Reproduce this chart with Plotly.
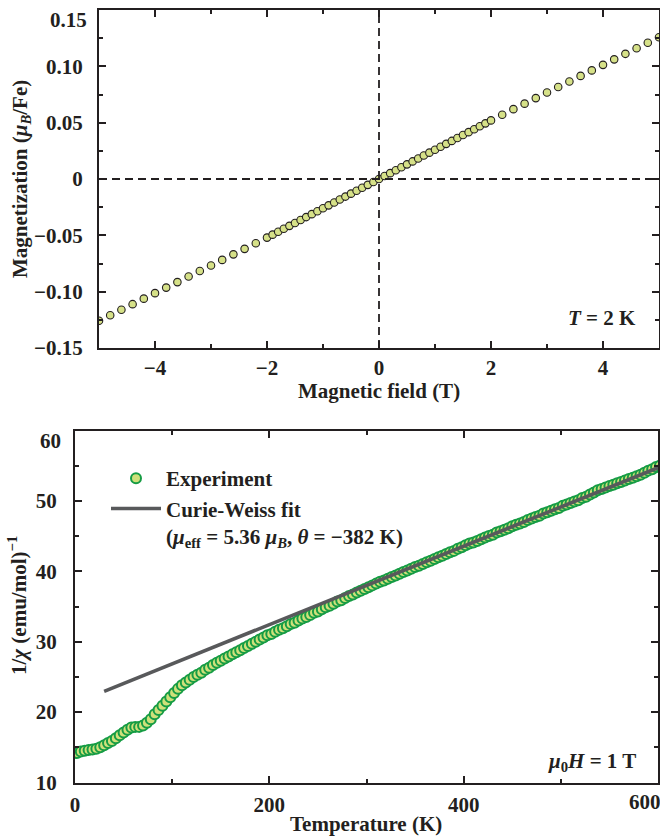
import plotly.graph_objects as go

# ---- M(H) isotherm at T = 2 K ----
field_T = [-5.0, -4.8, -4.6, -4.4, -4.2, -4.0, -3.8, -3.6, -3.4, -3.2, -3.0, -2.8, -2.6, -2.4, -2.2,
           -2.0, -1.9, -1.8, -1.7, -1.6, -1.5, -1.4, -1.3, -1.2, -1.1, -1.0, -0.9, -0.8, -0.7, -0.6,
           -0.5, -0.4, -0.3, -0.2, -0.1, 0.0, 0.1, 0.2, 0.3, 0.4, 0.5, 0.6, 0.7, 0.8, 0.9, 1.0,
           1.1, 1.2, 1.3, 1.4, 1.5, 1.6, 1.7, 1.8, 1.9, 2.0,
           2.2, 2.4, 2.6, 2.8, 3.0, 3.2, 3.4, 3.6, 3.8, 4.0, 4.2, 4.4, 4.6, 4.8, 5.0]
magnetization = [-0.1258, -0.1209, -0.1160, -0.1111, -0.1062, -0.1013, -0.0964, -0.0915, -0.0866, -0.0817,
                 -0.0768, -0.0718, -0.0669, -0.0620, -0.0570,
                 -0.0520, -0.0494, -0.0468, -0.0442, -0.0416, -0.0390, -0.0364, -0.0338, -0.0312, -0.0286,
                 -0.0260, -0.0234, -0.0208, -0.0182, -0.0156, -0.0130, -0.0104, -0.0078, -0.0052, -0.0026,
                 0.0000, 0.0026, 0.0052, 0.0078, 0.0104, 0.0130, 0.0156, 0.0182, 0.0208, 0.0234, 0.0260,
                 0.0286, 0.0312, 0.0338, 0.0364, 0.0390, 0.0416, 0.0442, 0.0468, 0.0494, 0.0520,
                 0.0570, 0.0620, 0.0669, 0.0718, 0.0768, 0.0817, 0.0866, 0.0915, 0.0964, 0.1013,
                 0.1062, 0.1111, 0.1160, 0.1209, 0.1258]

field_tickvals = [-4, -2, 0, 2, 4]
field_ticktext = ["\u22124", "\u22122", "0", "2", "4"]
field_minor = [-5, -3, -1, 1, 3, 5]
mag_tickvals = [-0.15, -0.10, -0.05, 0, 0.05, 0.10, 0.15]
mag_ticktext = ["\u22120.15", "\u22120.10", "\u22120.05", "0", "0.05", "0.10", ""]
mag_minor = [-0.125, -0.075, -0.025, 0.025, 0.075, 0.125]

# ---- inverse susceptibility at mu0H = 1 T ----
temperature_K = [2, 6, 10, 14, 18, 22, 26, 30, 34, 38, 42, 46, 50, 54, 58, 62, 66, 70, 74, 78,
                 82, 86, 90, 94, 98, 102, 106, 110, 114, 118, 122, 126, 130, 134, 138, 142, 146, 150, 154, 158,
                 162, 166, 170, 174, 178, 182, 186, 190, 194, 198, 202, 206, 210, 214, 218, 222, 226, 230, 234, 238,
                 242, 246, 250, 254, 258, 262, 266, 270, 274, 278, 282, 286, 290, 294, 298, 302, 306, 310, 314, 318,
                 322, 326, 330, 334, 338, 342, 346, 350, 354, 358, 362, 366, 370, 374, 378, 382, 386, 390, 394, 398,
                 402, 406, 410, 414, 418, 422, 426, 430, 434, 438, 442, 446, 450, 454, 458, 462, 466, 470, 474, 478,
                 482, 486, 490, 494, 498, 502, 506, 510, 514, 518, 522, 526, 530, 534, 538, 542, 546, 550, 554, 558,
                 562, 566, 570, 574, 578, 582, 586, 590, 594, 598, 602, 606, 610]
inv_chi = [14.2, 14.4, 14.5, 14.6, 14.7, 14.8, 15.0, 15.3, 15.6, 15.9, 16.3, 16.7, 17.1, 17.5, 17.8, 17.9, 17.9, 18.1, 18.5, 19.0,
           19.7, 20.3, 20.9, 21.5, 22.1, 22.7, 23.3, 23.8, 24.2, 24.6, 25.0, 25.3, 25.6, 26.0, 26.3, 26.7, 27.0, 27.3, 27.6, 27.9,
           28.2, 28.5, 28.8, 29.1, 29.4, 29.7, 30.0, 30.3, 30.6, 30.9, 31.1, 31.4, 31.7, 31.9, 32.2, 32.5, 32.7, 33.0, 33.3, 33.5,
           33.8, 34.1, 34.3, 34.6, 34.9, 35.1, 35.4, 35.7, 35.9, 36.2, 36.5, 36.7, 37.0, 37.25, 37.5, 37.75, 38.0, 38.25, 38.5, 38.7,
           38.95, 39.2, 39.4, 39.65, 39.9, 40.1, 40.35, 40.6, 40.8, 41.05, 41.3, 41.5, 41.75, 42.0, 42.2, 42.45, 42.7, 42.9, 43.2, 43.4,
           43.7, 43.95, 44.1, 44.3, 44.55, 44.8, 45.0, 45.2, 45.5, 45.7, 45.9, 46.1, 46.4, 46.6, 46.8, 47.0, 47.3, 47.5, 47.7, 47.9,
           48.2, 48.4, 48.6, 48.8, 49.0, 49.3, 49.5, 49.7, 49.9, 50.1, 50.4, 50.6, 50.9, 51.2, 51.5, 51.7, 51.9, 52.1, 52.3, 52.5,
           52.7, 52.9, 53.1, 53.3, 53.5, 53.7, 54.0, 54.3, 54.5, 54.8, 55.0, 55.1, 55.2]

# Curie-Weiss parameters: 1/chi = (T - theta) / C
theta_K = -382
curie_const = 17.95
fit_temperature = [30, 610]
fit_inv_chi = [(t - theta_K) / curie_const for t in fit_temperature]

temp_tickvals = [0, 200, 400, 600]
temp_ticktext = ["0", "200", "400", ""]
temp_minor = [100, 300, 500]
chi_tickvals = [10, 20, 30, 40, 50, 60]
chi_ticktext = ["10", "20", "30", "40", "50", ""]
chi_minor = [15, 25, 35, 45, 55]

INK = "#231f20"
SERIF = "Liberation Serif"
FS = 21
W, H = 660, 838

fig = go.Figure()

fig.add_trace(go.Scatter(
    x=field_T, y=magnetization, mode="markers", showlegend=False,
    marker=dict(size=7.5, color="#d6e188", line=dict(color=INK, width=1.1)),
    xaxis="x", yaxis="y"))

fig.add_trace(go.Scatter(
    x=temperature_K, y=inv_chi, mode="markers", name="Experiment",
    marker=dict(size=10, color="#cfe07a", line=dict(color="#169c44", width=2)),
    xaxis="x2", yaxis="y2", legendrank=1))

fig.add_trace(go.Scatter(
    x=fit_temperature, y=fit_inv_chi, mode="lines",
    name="Curie-Weiss fit<br>(<i>\u03bc</i><sub>eff</sub> = 5.36 <i>\u03bc</i><sub><i>B</i></sub>, "
         "<i>\u03b8</i> = \u2212382 K)",
    line=dict(color="#58595b", width=3.6),
    xaxis="x2", yaxis="y2", legendrank=2))

tickfont = dict(family=SERIF, size=FS, color=INK, weight="bold")
common = dict(showline=True, linewidth=2, linecolor=INK, mirror="ticks", ticks="inside",
              ticklen=7, tickwidth=1.5, tickcolor=INK, showgrid=False, zeroline=False,
              tickfont=tickfont, automargin=False)

def minor(vals):
    return dict(tickmode="array", tickvals=vals, ticks="inside", ticklen=4,
                tickwidth=1.5, tickcolor=INK, showgrid=False)

fig.update_layout(
    width=W, height=H, margin=dict(l=0, r=0, t=0, b=0, autoexpand=False),
    paper_bgcolor="white", plot_bgcolor="white",
    xaxis=dict(domain=[99 / W, 659 / W], range=[-5, 5], anchor="y",
               tickmode="array", tickvals=field_tickvals, ticktext=field_ticktext,
               minor=minor(field_minor), ticklabelstandoff=0, **common),
    yaxis=dict(domain=[1 - 348 / H, 1 - 10 / H], range=[-0.15, 0.15], anchor="x",
               tickmode="array", tickvals=mag_tickvals, ticktext=mag_ticktext,
               minor=minor(mag_minor), ticklabelstandoff=10, **common),
    xaxis2=dict(domain=[75 / W, 658 / W], range=[0, 600], anchor="y2",
                tickmode="array", tickvals=temp_tickvals, ticktext=temp_ticktext,
                minor=minor(temp_minor), ticklabelstandoff=2, **common),
    yaxis2=dict(domain=[1 - 782.5 / H, 1 - 430.5 / H], range=[10, 60], anchor="x2",
                tickmode="array", tickvals=chi_tickvals, ticktext=chi_ticktext,
                minor=minor(chi_minor), ticklabelstandoff=12, **common),
    legend=dict(x=106 / W, y=1 - 458 / H, xanchor="left", yanchor="top",
                bgcolor="rgba(0,0,0,0)", itemwidth=50, valign="top", tracegroupgap=0,
                font=dict(family=SERIF, size=FS, color=INK, weight="bold")),
    shapes=[
        dict(type="line", xref="x", yref="y domain", x0=0, x1=0, y0=0, y1=1,
             line=dict(color=INK, width=1.8, dash="8px,5px")),
        dict(type="line", xref="x domain", yref="y", x0=0, x1=1, y0=0, y1=0,
             line=dict(color=INK, width=1.8, dash="8px,5px")),
    ],
)

label_font = dict(family=SERIF, size=FS, color=INK, weight="bold")

def note(text, x, y, xanchor="center", angle=0):
    fig.add_annotation(text=text, xref="paper", yref="paper", x=x / W, y=1 - y / H,
                       xanchor=xanchor, yanchor="middle", showarrow=False,
                       textangle=angle, font=label_font)

# end-of-axis tick labels, set slightly inside the frame corner
fig.add_annotation(text="0.15", xref="paper", yref="y", x=89 / W, y=mag_tickvals[-1],
                   xanchor="right", yanchor="middle", yshift=-10, showarrow=False, font=label_font)
fig.add_annotation(text="60", xref="paper", yref="y2", x=63 / W, y=chi_tickvals[-1],
                   xanchor="right", yanchor="middle", yshift=-10, showarrow=False, font=label_font)
fig.add_annotation(text="600", xref="x2", yref="paper", x=temp_tickvals[-1], y=1 - 802 / H,
                   xanchor="center", yanchor="middle", xshift=-13, showarrow=False, font=label_font)

note("Magnetization (<i>\u03bc</i><sub><i>B</i></sub>/Fe)", 21, 179, angle=-90)
note("Magnetic field (T)", 379, 391)
note("<i>T</i> = 2 K", 638, 318, xanchor="right")
note("1/<i>\u03c7</i> (emu/mol)<sup>\u22121</sup>", 17, 606, angle=-90)
note("Temperature (K)", 366, 824)
note("<i>\u03bc</i><sub>0</sub><i>H</i> = 1 T", 638, 762, xanchor="right")

fig.write_html("out.html")
